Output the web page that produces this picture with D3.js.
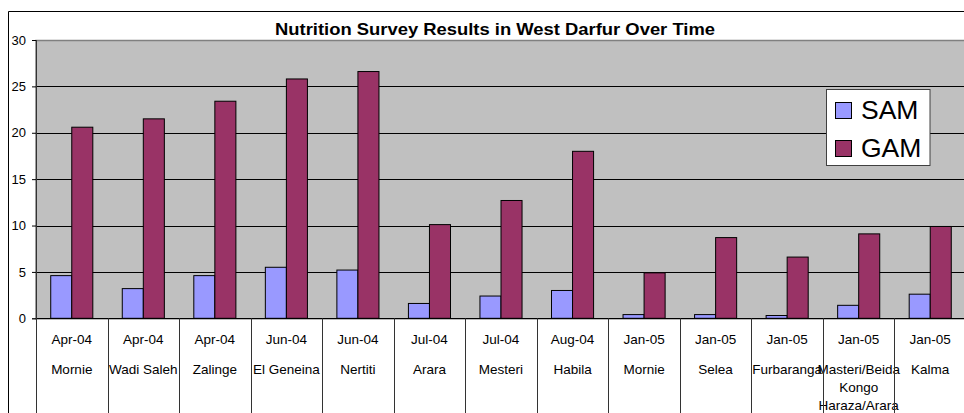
<!DOCTYPE html>
<html><head><meta charset="utf-8">
<script src="https://cdn.jsdelivr.net/npm/d3@7"></script>
<style>html,body{margin:0;padding:0;background:#fff;overflow:hidden}svg{display:block}text{font-family:"Liberation Sans",Arial,sans-serif;fill:#000}</style>
</head><body><svg id="chart" width="964" height="413"></svg>
<script>
const title = "Nutrition Survey Results in West Darfur Over Time";
const dates = ["Apr-04","Apr-04","Apr-04","Jun-04","Jun-04","Jul-04","Jul-04","Aug-04","Jan-05","Jan-05","Jan-05","Jan-05","Jan-05"];
const sites = [["Mornie"],["Wadi Saleh"],["Zalinge"],["El Geneina"],["Nertiti"],["Arara"],["Mesteri"],["Habila"],["Mornie"],["Selea"],["Furbaranga"],["Masteri/Beida","Kongo","Haraza/Arara"],["Kalma"]];
const seriesNames = ["SAM","GAM"];
const samValues = [4.6,3.2,4.6,5.5,5.2,1.6,2.4,3.0,0.4,0.4,0.3,1.4,2.6];
const gamValues = [20.6,21.5,23.4,25.8,26.6,10.1,12.7,18.0,4.9,8.7,6.6,9.1,9.9];
const seriesColors = ["#9999ff","#993366"];
const yTicks = [0,5,10,15,20,25,30];

const svg = d3.select("#chart");
const W = 964, H = 413;
const plot = {left:36, right:966, top:40, bottom:318.3};
const idx = d3.range(dates.length);
const x = d3.scaleBand().domain(idx).range([plot.left, plot.right]).padding(0);
const x1 = d3.scaleBand().domain(seriesNames).range([0, x.bandwidth()]).paddingInner(0).paddingOuter(0.7);
const y = d3.scaleLinear().domain([0,30]).range([plot.bottom, plot.top]);
const color = d3.scaleOrdinal().domain(seriesNames).range(seriesColors);

// outer chart border
svg.append("path").attr("d", `M8.5,${H} V11.5 H${W}`).attr("fill","none").attr("stroke","#000").attr("stroke-width",1);

// title
svg.append("text").attr("x",495).attr("y",34.5).attr("text-anchor","middle")
  .attr("font-weight","bold").attr("font-size",16.5)
  .attr("textLength",440).attr("lengthAdjust","spacingAndGlyphs").text(title);

// plot area
svg.append("rect").attr("x",plot.left).attr("y",plot.top+0.5)
  .attr("width",plot.right-plot.left).attr("height",plot.bottom-plot.top)
  .attr("fill","#c0c0c0").attr("stroke","#808080").attr("stroke-width",1.5);

// gridlines
svg.append("g").selectAll("line").data(yTicks.filter(t=>t>0 && t<30)).join("line")
  .attr("x1",plot.left).attr("x2",plot.right)
  .attr("y1",d=>Math.round(y(d))+0.5).attr("y2",d=>Math.round(y(d))+0.5)
  .attr("stroke","#000").attr("stroke-width",1);

// y axis
const yAxis = svg.append("g").attr("transform",`translate(${plot.left},0)`)
  .call(d3.axisLeft(y).tickValues(yTicks).tickSize(4).tickPadding(6));
yAxis.select(".domain").attr("stroke","#555");
yAxis.selectAll(".tick line").attr("stroke","#000");
yAxis.selectAll(".tick text").attr("font-size",13).attr("font-family","Liberation Sans, Arial, sans-serif").attr("fill","#000");

// bars
const groups = svg.append("g").selectAll("g").data(idx).join("g")
  .attr("transform", i => `translate(${x(i)},0)`);
groups.selectAll("rect").data(i => [
    {s:"SAM", v:samValues[i]}, {s:"GAM", v:gamValues[i]}
  ]).join("rect")
  .attr("x", d => x1(d.s)).attr("width", x1.bandwidth())
  .attr("y", d => y(d.v)).attr("height", d => y(0)-y(d.v))
  .attr("fill", d => color(d.s)).attr("stroke","#000").attr("stroke-width",1);

// x axis line
svg.append("line").attr("x1",plot.left).attr("x2",plot.right)
  .attr("y1",Math.round(plot.bottom)+0.5).attr("y2",Math.round(plot.bottom)+0.5)
  .attr("stroke","#000");

// category labels
const lab = svg.append("g");
idx.forEach(i => {
  const cx = x(i) + x.bandwidth()/2;
  lab.append("text").attr("x",cx).attr("y",344.3).attr("text-anchor","middle").attr("font-size",13.5).text(dates[i]);
  const ys = [374.3, 391.5, 410];
  sites[i].forEach((s,k) => {
    lab.append("text").attr("x",cx).attr("y",ys[k]).attr("text-anchor","middle").attr("font-size",13.5).text(s);
  });
});

// category dividers
svg.append("g").selectAll("line").data(d3.range(dates.length+1)).join("line")
  .attr("x1", i => Math.round(plot.left + i*x.step())+0.5)
  .attr("x2", i => Math.round(plot.left + i*x.step())+0.5)
  .attr("y1", i => i===0 ? plot.top : plot.bottom)
  .attr("y2", H)
  .attr("stroke","#333").attr("stroke-width",1);

// legend
const lg = svg.append("g");
lg.append("rect").attr("x",826.5).attr("y",89.5).attr("width",103.5).attr("height",76)
  .attr("fill","#fff").attr("stroke","#404040");
const legY = [102.5, 140.5];
seriesNames.forEach((s,k) => {
  lg.append("rect").attr("x",835.5).attr("y",legY[k]).attr("width",16).attr("height",16)
    .attr("fill",color(s)).attr("stroke","#000");
  lg.append("text").attr("x",861).attr("y",legY[k]+16.8).attr("font-size",26.5).text(s);
});
</script>
</body></html>
